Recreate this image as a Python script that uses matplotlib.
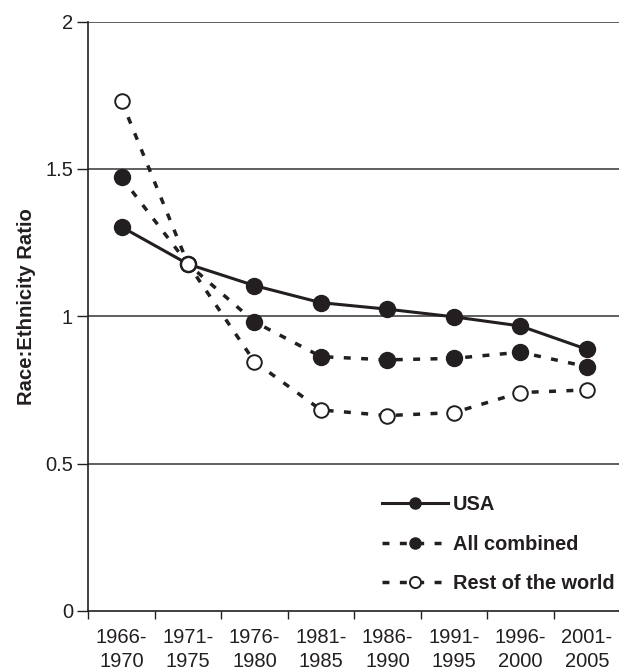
import matplotlib
matplotlib.use("Agg")
import matplotlib.pyplot as plt
from matplotlib.lines import Line2D

periods = ["1966-\n1970", "1971-\n1975", "1976-\n1980", "1981-\n1985",
           "1986-\n1990", "1991-\n1995", "1996-\n2000", "2001-\n2005"]
usa = [1.303, 1.177, 1.104, 1.046, 1.024, 0.998, 0.967, 0.888]
all_combined = [1.471, 1.177, 0.981, 0.863, 0.852, 0.857, 0.878, 0.829]
rest_world = [1.730, 1.177, 0.846, 0.682, 0.663, 0.673, 0.741, 0.750]
y_ticks = [0, 0.5, 1, 1.5, 2]
y_tick_labels = ["0", "0.5", "1", "1.5", "2"]
series_names = ["USA", "All combined", "Rest of the world"]

plt.rcParams['font.family'] = ['Liberation Sans', 'DejaVu Sans']
ink = '#231f20'

fig = plt.figure(figsize=(6.19, 6.70), dpi=100)
ax = fig.add_axes([0.1427, 0.0881, 0.8589, 0.8798])

x = list(range(len(periods)))
dash = (0, (2.0, 3.0))
styles = [
    dict(color=ink, lw=2.2, ls='-', marker='o', mfc=ink, mec=ink),
    dict(color=ink, lw=2.5, ls=dash, marker='o', mfc=ink, mec=ink),
    dict(color=ink, lw=2.5, ls=dash, marker='o', mfc='white', mec=ink, mew=1.4),
]
sizes = [11.5, 11.5, 10.5]
for i, (vals, st, ms) in enumerate(zip([usa, all_combined, rest_world], styles, sizes)):
    ax.plot(x, vals, ms=ms, zorder=3 + i, **st)

ax.set_xlim(-0.5, len(periods) - 0.5)
ax.set_ylim(0, 2)
ax.set_yticks(y_ticks)
ax.set_yticklabels(y_tick_labels)
ax.set_xticks([i + 0.5 for i in range(-1, len(periods) - 1)])
ax.set_xticklabels([])
ax.set_xticks(x, minor=True)
ax.set_xticklabels(periods, minor=True, linespacing=1.36)
ax.tick_params(axis='x', which='minor', length=0, pad=12, labelsize=14.5, colors=ink)
ax.tick_params(axis='x', which='major', length=6, width=1, direction='out', color=ink)
ax.tick_params(axis='y', length=8, width=1, direction='out', pad=3,
               labelsize=14.5, colors=ink)

for v in [0.5, 1, 1.5, 2]:
    ax.axhline(v, color='#444444', lw=1.2, zorder=1)

for s in ['right', 'top']:
    ax.spines[s].set_visible(False)
for s in ['left', 'bottom']:
    ax.spines[s].set_color(ink)
    ax.spines[s].set_linewidth(1.2)

ax.set_ylabel('Race:Ethnicity Ratio', fontsize=14.6, fontweight='bold',
              color=ink)
ax.yaxis.set_label_coords(-0.0975, 0.517)

handles = [Line2D([], [], ms=8, **st) for st in styles]
leg = ax.legend(handles, series_names, loc='lower left',
                bbox_to_anchor=(0.552, 0.03), frameon=False,
                borderpad=0, borderaxespad=0, handlelength=3.3,
                handletextpad=0.25, labelspacing=1.03,
                prop={'weight': 'bold', 'size': 14.4})
for t in leg.get_texts():
    t.set_color(ink)

fig.savefig('out.png', dpi=100)
